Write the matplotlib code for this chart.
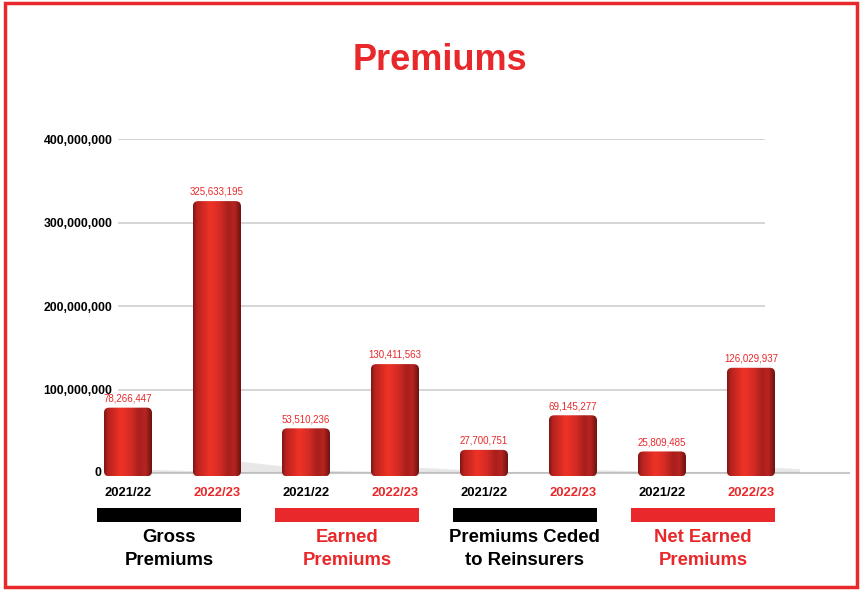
import matplotlib.pyplot as plt
import numpy as np
from matplotlib.colors import LinearSegmentedColormap
from matplotlib.patches import FancyBboxPatch, Polygon, Rectangle
from matplotlib.transforms import blended_transform_factory

plt.rcParams['font.family'] = ['Liberation Sans', 'DejaVu Sans']

RED = '#e8282a'

groups = ['Gross\nPremiums', 'Earned\nPremiums', 'Premiums Ceded\nto Reinsurers', 'Net Earned\nPremiums']
group_colors = ['black', RED, 'black', RED]
years = ['2021/22', '2022/23']
year_colors = ['black', RED]
values_2122 = [78266447, 53510236, 27700751, 25809485]
values_2223 = [325633195, 130411563, 69145277, 126029937]
yticks = [0, 100000000, 200000000, 300000000, 400000000]

cyl = LinearSegmentedColormap.from_list('cyl', [
    (0.00, '#7d1613'),
    (0.08, '#b8221f'),
    (0.35, '#ef3326'),
    (0.55, '#d42b24'),
    (0.72, '#a81f1c'),
    (0.85, '#b72420'),
    (1.00, '#5e100d'),
])


def cylinder(ax, x, h, w=0.54):
    base = -4e6
    patch = FancyBboxPatch((x - w / 2, base), w, h - base,
                           boxstyle='round,pad=0,rounding_size=0.06',
                           mutation_aspect=1.05e8, fc='none', ec='none', clip_on=False)
    ax.add_patch(patch)
    grad = np.linspace(0, 1, 256).reshape(1, -1)
    im = ax.imshow(grad, cmap=cyl, aspect='auto', extent=[x - w / 2, x + w / 2, base, h],
                   zorder=3, interpolation='bilinear')
    im.set_clip_box(ax.figure.bbox)
    im.set_clip_path(patch)

    # floor shadow trailing to the right
    sh = min(h * 0.05, 14e6)
    xr = x + w / 2
    ax.add_patch(Polygon([(xr - 0.05, -1e6), (xr + 0.8, -1e6), (xr + 0.8, sh * 0.3), (xr - 0.05, sh)],
                         closed=True, fc='#a0a0a0', ec='none', alpha=0.25, zorder=2))


fig = plt.figure(figsize=(8.61, 5.90), dpi=100)
ax = fig.add_axes([118 / 861, 1 - 473 / 590, (800 - 118) / 861, (473 - 139) / 590])

vals = []
for a, b in zip(values_2122, values_2223):
    vals += [a, b]
pos = np.arange(len(vals))

ax.hlines(yticks[1:], -0.112, 7.157, color='#d2d2d2', lw=1.3, zorder=1)
ax.plot([-0.2, 8.1], [0, 0], color='#c8c8c8', lw=1.5, zorder=1, clip_on=False)

for p, v in zip(pos, vals):
    cylinder(ax, p, v)
    ax.annotate(f'{v:,}', (p, v), xytext=(0, 3), textcoords='offset points',
                ha='center', va='bottom', fontsize=7, color=RED, annotation_clip=False)

ax.set_xlim(-0.112, 7.551)
ax.set_ylim(0, 400000000)
# the zero label sits left of the first bar, the rest line up at the axis
ax.set_yticks(yticks, [''] + [f'{t:,}' for t in yticks[1:]], fontsize=8.8, fontweight='bold')
ax.text(-0.3, 0, f'{yticks[0]:,}', ha='right', va='center', fontsize=8.8, fontweight='bold')
ax.tick_params(axis='y', length=0, pad=4)
ax.set_xticks([])
for s in ax.spines.values():
    s.set_visible(False)

trans = blended_transform_factory(ax.transData, ax.transAxes)
for p in pos:
    ax.text(p, -0.06, years[p % 2], transform=trans, ha='center', va='center',
            fontsize=9.4, fontweight='bold', color=year_colors[p % 2])

for g, (name, col) in enumerate(zip(groups, group_colors)):
    c = 2 * g + 0.46
    ax.add_patch(Rectangle((c - 0.81, -0.147), 1.62, 0.042, transform=trans,
                           fc=col, ec='none', clip_on=False))
    ax.text(c, -0.228, name, transform=trans, ha='center', va='center',
            fontsize=13.3, fontweight='bold', color=col, linespacing=1.42)

fig.text(440 / 861, 1 - 61 / 590, 'Premiums', ha='center', va='center',
         fontsize=26, fontweight='bold', color=RED)

fig.patches.append(Rectangle((5 / 861, 3 / 590), 852 / 861, 584 / 590, transform=fig.transFigure,
                             fill=False, ec=RED, lw=2.5))

plt.savefig('out.png', dpi=100)
